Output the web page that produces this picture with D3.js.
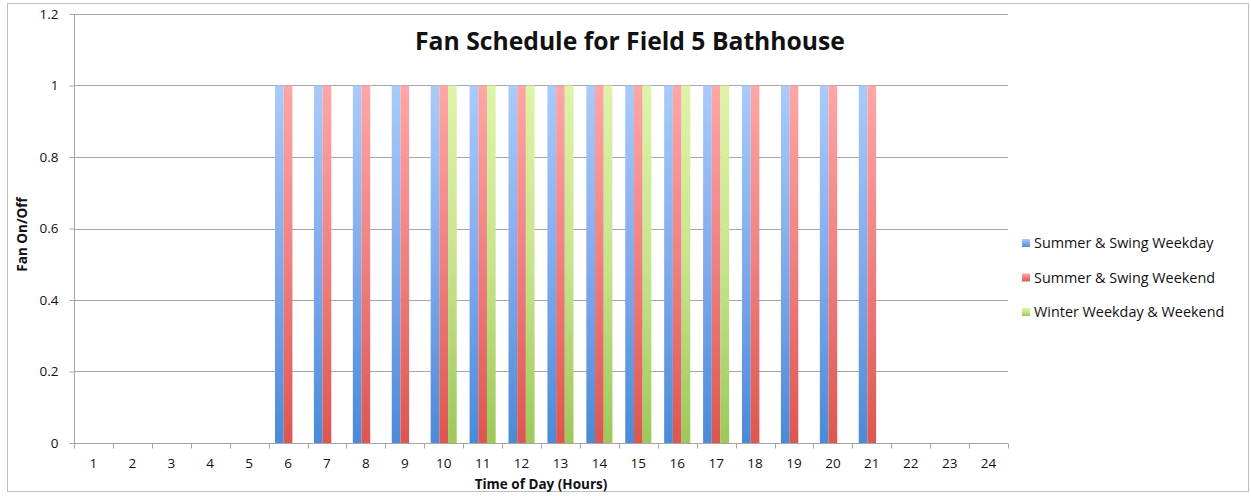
<!DOCTYPE html>
<html lang="en">
<head>
  <meta charset="UTF-8">
  <script src="https://d3js.org/d3.v7.min.js"></script>
  <title>Fan Schedule for Field 5 Bathhouse</title>
  <style>
    body { margin: 0; background: #fff; }
    text { font-family: "Open Sans", "DejaVu Sans", sans-serif; fill: #111; }
  </style>
</head>
<body>
  <div id="chart"></div>
  <script>
    // hours of the day
    const hours = d3.range(1, 25);
    const seriesNames = ['Summer & Swing Weekday', 'Summer & Swing Weekend', 'Winter Weekday & Weekend'];
    // fan on (1) / off (0) for each hour 1..24
    const summerWeekday = [0,0,0,0,0,1,1,1,1,1,1,1,1,1,1,1,1,1,1,1,1,0,0,0];
    const summerWeekend = [0,0,0,0,0,1,1,1,1,1,1,1,1,1,1,1,1,1,1,1,1,0,0,0];
    const winterAll     = [0,0,0,0,0,0,0,0,0,1,1,1,1,1,1,1,1,0,0,0,0,0,0,0];
    const yTicks = [0, 0.2, 0.4, 0.6, 0.8, 1, 1.2];

    const seriesValues = [summerWeekday, summerWeekend, winterAll];
    // top / mid / bottom gradient colours per series
    const colours = [
      ['#a9cbfa', '#80aaec', '#4a8ad8'],
      ['#ffa6a6', '#ee8080', '#dd5650'],
      ['#def4a8', '#c6e48c', '#9cc95a']
    ];

    const W = 1251, H = 496;
    const margin = { left: 74, right: 243, top: 14, bottom: 53 };

    const svg = d3.select('#chart').append('svg')
      .attr('width', W).attr('height', H);

    // outer frame
    svg.append('rect')
      .attr('x', 7.5).attr('y', 3.5)
      .attr('width', W - 10).attr('height', H - 8)
      .attr('fill', 'none').attr('stroke', '#bfbfbf');

    const x = d3.scaleBand().domain(hours)
      .range([margin.left, W - margin.right]);
    const y = d3.scaleLinear().domain([0, 1.2])
      .range([H - margin.bottom, margin.top]);

    const groupW = x.bandwidth() * 0.67;
    const x1 = d3.scaleBand().domain(d3.range(3))
      .range([(x.bandwidth() - groupW) / 2, (x.bandwidth() + groupW) / 2]);

    const defs = svg.append('defs');
    colours.forEach((c, i) => {
      const g = defs.append('linearGradient').attr('id', 'grad' + i)
        .attr('x1', 0).attr('y1', 0).attr('x2', 0).attr('y2', 1);
      g.append('stop').attr('offset', '0%').attr('stop-color', c[0]);
      g.append('stop').attr('offset', '50%').attr('stop-color', c[1]);
      g.append('stop').attr('offset', '100%').attr('stop-color', c[2]);
    });

    // gridlines
    svg.append('g')
      .selectAll('line')
      .data(yTicks.filter(d => d > 0))
      .enter()
      .append('line')
      .attr('x1', margin.left).attr('x2', W - margin.right)
      .attr('y1', d => Math.round(y(d)) + 0.5).attr('y2', d => Math.round(y(d)) + 0.5)
      .attr('stroke', '#a6a6a6');

    // bars
    seriesValues.forEach((vals, i) => {
      svg.append('g')
        .selectAll('rect')
        .data(hours.map((h, j) => ({ h, v: vals[j] })).filter(d => d.v > 0))
        .enter()
        .append('rect')
        .attr('x', d => x(d.h) + x1(i))
        .attr('y', d => y(d.v))
        .attr('width', x1.bandwidth())
        .attr('height', d => y(0) - y(d.v))
        .attr('fill', `url(#grad${i})`);
    });

    // y axis
    const yAxis = svg.append('g')
      .attr('transform', `translate(${margin.left + 0.5},0)`)
      .call(d3.axisLeft(y).tickValues(yTicks).tickSize(5).tickPadding(11)
        .tickFormat(d => d3.format('~g')(d)));
    yAxis.select('.domain').attr('stroke', '#a6a6a6').attr('d', `M0,${y(1.2)}V${y(0)}`);
    yAxis.selectAll('.tick line').attr('stroke', '#a6a6a6');
    yAxis.selectAll('.tick text').style('font-size', '13.5px');

    // x axis
    const xAxis = svg.append('g')
      .attr('transform', `translate(0,${Math.round(y(0)) + 0.5})`)
      .call(d3.axisBottom(x).tickSize(0).tickPadding(15));
    xAxis.select('.domain').attr('stroke', '#a6a6a6').attr('d', `M${margin.left},0H${W - margin.right}`);
    xAxis.selectAll('.tick text').style('font-size', '13.5px');
    xAxis.append('g')
      .selectAll('line')
      .data(hours.concat([25]))
      .enter()
      .append('line')
      .attr('x1', d => Math.round(d === 25 ? x(24) + x.bandwidth() : x(d)) + 0.5)
      .attr('x2', d => Math.round(d === 25 ? x(24) + x.bandwidth() : x(d)) + 0.5)
      .attr('y1', 0).attr('y2', 5)
      .attr('stroke', '#a6a6a6');

    // title
    svg.append('text')
      .attr('x', 630).attr('y', 50)
      .attr('text-anchor', 'middle')
      .style('font-size', '24.7px').style('font-weight', 'bold')
      .text('Fan Schedule for Field 5 Bathhouse');

    // axis titles
    svg.append('text')
      .attr('transform', `translate(27,${(y(0) + y(1.2)) / 2 + 6}) rotate(-90)`)
      .attr('text-anchor', 'middle')
      .style('font-size', '13.5px').style('font-weight', 'bold')
      .text('Fan On/Off');
    svg.append('text')
      .attr('x', (margin.left + W - margin.right) / 2).attr('y', 489)
      .attr('text-anchor', 'middle')
      .style('font-size', '13.5px').style('font-weight', 'bold')
      .text('Time of Day (Hours)');

    // legend
    const legend = svg.append('g')
      .selectAll('g')
      .data(seriesNames)
      .enter()
      .append('g')
      .attr('transform', (d, i) => `translate(1022,${243 + i * 34.5})`);
    legend.append('rect')
      .attr('x', 0).attr('y', -4).attr('width', 8).attr('height', 8)
      .attr('fill', (d, i) => `url(#grad${i})`);
    legend.append('text')
      .attr('x', 12).attr('y', 5)
      .style('font-size', '14.4px')
      .text(d => d);
  </script>
</body>
</html>
